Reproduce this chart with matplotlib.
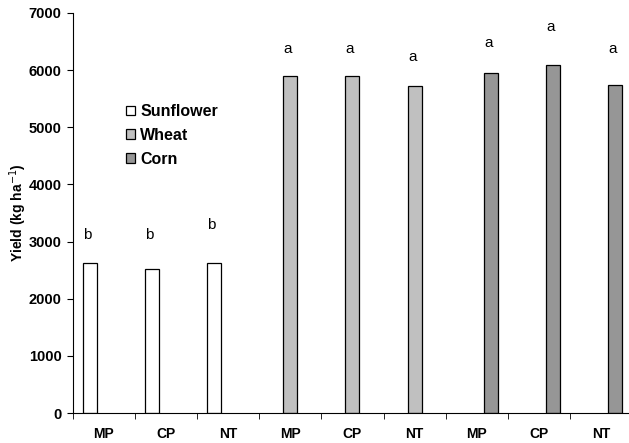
import numpy as np
import matplotlib.pyplot as plt

plt.rcParams['font.family'] = ['Liberation Sans', 'DejaVu Sans']

categories = ["MP", "CP", "NT", "MP", "CP", "NT", "MP", "CP", "NT"]
sunflower = [2630, 2525, 2630, 0, 0, 0, 0, 0, 0]
wheat = [0, 0, 0, 5890, 5890, 5720, 0, 0, 0]
corn = [0, 0, 0, 0, 0, 0, 5945, 6095, 5735]
letters = ["b", "b", "b", "a", "a", "a", "a", "a", "a"]
letter_y = [3110, 3110, 3290, 6365, 6365, 6235, 6470, 6760, 6365]

x = np.arange(len(categories))
w = 0.225

fig = plt.figure(figsize=(6.29, 4.43), dpi=100)
ax = fig.add_axes([0.1153, 0.0677, 0.890, 0.903])


def draw(vals, off, color, label):
    vals = np.array(vals)
    keep = vals > 0  # zero bars would leave an outline on the axis
    ax.bar(x[keep] + off, vals[keep], w, color=color, edgecolor="black",
           linewidth=0.9, label=label)


draw(sunflower, -w, "white", "Sunflower")
draw(wheat, 0, "#C0C0C0", "Wheat")
draw(corn, w, "#969696", "Corn")

offsets = [-w] * 3 + [0] * 3 + [w] * 3
for xi, off, lt, ly in zip(x, offsets, letters, letter_y):
    ax.text(xi + off - 0.04, ly, lt, ha="center", va="center", fontsize=11)

ax.set_xlim(-0.5, 8.5)
ax.set_ylim(0, 7000)
ax.set_yticks(range(0, 7001, 1000))
ax.set_xticks(x)
ax.set_xticklabels(categories, fontweight="bold", fontsize=10)
ax.set_xticks(np.arange(-0.5, 9.0, 1), minor=True)
ax.tick_params(axis="x", which="major", length=0, pad=10)
ax.tick_params(axis="x", which="minor", length=4, direction="out")
ax.tick_params(axis="y", length=4, direction="out", labelsize=10.5, pad=4)
for lab in ax.get_yticklabels():
    lab.set_fontweight("bold")

ax.spines["top"].set_visible(False)
ax.spines["right"].set_visible(False)

ax.set_ylabel("Yield (kg ha$^{-1}$)", fontweight="bold", fontsize=10)
ax.yaxis.set_label_coords(-0.078, 0.5)

fig.legend(loc="upper left", bbox_to_anchor=(118 / 629, 1 - 96 / 443), frameon=False,
           prop={"weight": "bold", "size": 11.5}, handlelength=0.55, handleheight=0.55,
           handletextpad=0.35, labelspacing=0.55, borderpad=0)

fig.savefig("out.png", dpi=100)
